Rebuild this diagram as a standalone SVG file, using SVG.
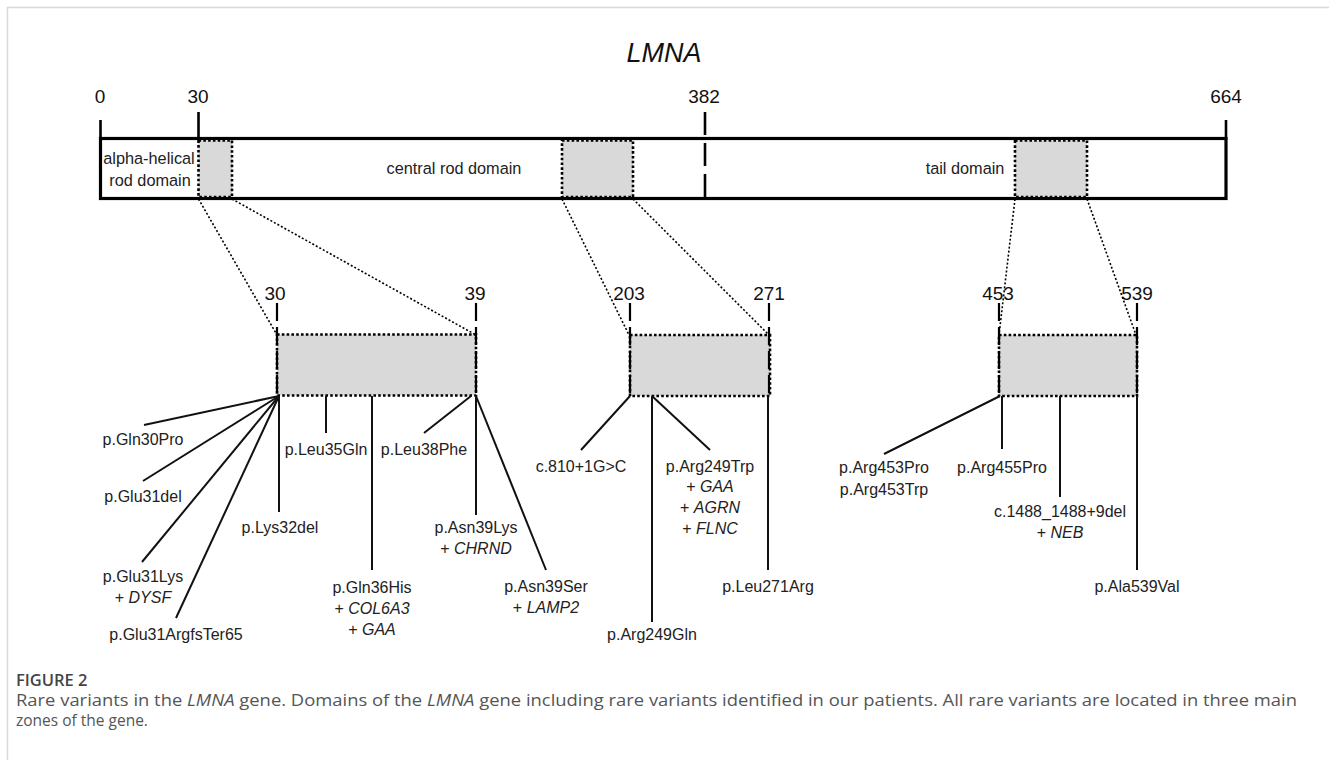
<svg xmlns="http://www.w3.org/2000/svg" width="1329" height="760" viewBox="0 0 1329 760">
<style>
.t{font-family:"Liberation Sans",Arial,sans-serif;font-size:16px;fill:#222;text-anchor:middle}
.d{font-family:"Liberation Sans",Arial,sans-serif;font-size:16.3px;fill:#222;text-anchor:middle}
.n{font-family:"Liberation Sans",Arial,sans-serif;font-size:19px;fill:#111;text-anchor:middle}
.bar{fill:none;stroke:#000;stroke-width:3.2}
.tick{stroke:#000;stroke-width:2.6}
.shade{fill:#d9d9d9;stroke:#000;stroke-width:2.6;stroke-dasharray:2.6 2.2}
.ztick{stroke:#000;stroke-width:2.2;stroke-dasharray:18 6}
.zoom{stroke:#000;stroke-width:1.6;stroke-dasharray:2 2;fill:none}
.v{stroke:#111;stroke-width:2;fill:none}
.i{font-style:italic}
.cap{font-family:"Open Sans","Liberation Sans",sans-serif;fill:#555;font-size:15.5px}
</style>
<rect x="0" y="0" width="1329" height="760" fill="#fff"/>
<path d="M7.5 760 V7.5 H1329" fill="none" stroke="#d9d9d9" stroke-width="1.5"/>

<g id="title"><text x="664" y="62" font-family="Liberation Sans,Arial,sans-serif" font-size="27" font-style="italic" text-anchor="middle" fill="#111">LMNA</text></g>

<g id="gene-bar">
  <line class="tick" x1="100.5" y1="120" x2="100.5" y2="140"/>
  <line class="tick" x1="1226" y1="120" x2="1226" y2="140"/>
  <line class="tick" x1="198.5" y1="112" x2="198.5" y2="137"/>
  <rect class="bar" x="100.5" y="138.5" width="1125.5" height="60"/>
  <rect class="shade" x="198.5" y="140.5" width="33.5" height="56.5"/>
  <rect class="shade" x="562" y="140.5" width="71" height="56.5"/>
  <rect class="shade" x="1015" y="140.5" width="72" height="56.5"/>
  <line x1="705" y1="112" x2="705" y2="198" stroke="#000" stroke-width="2.6" stroke-dasharray="23 8"/>
  <text class="n" x="100" y="103">0</text>
  <text class="n" x="198" y="103">30</text>
  <text class="n" x="704" y="103">382</text>
  <text class="n" x="1226" y="103">664</text>
  <text class="d" x="149" y="164">alpha-helical</text>
  <text class="d" x="150" y="186">rod domain</text>
  <text class="d" x="454" y="174">central rod domain</text>
  <text class="d" x="965" y="174">tail domain</text>
</g>

<g id="zoom-30-39">
  <rect class="shade" x="277" y="334.5" width="199" height="61"/>
  <line class="ztick" x1="277" y1="303" x2="277" y2="396"/>
  <line class="ztick" x1="476" y1="303" x2="476" y2="396"/>
  <text class="n" x="275" y="300">30</text>
  <text class="n" x="475" y="300">39</text>
</g>
<g id="zoom-203-271">
  <rect class="shade" x="630" y="335" width="140" height="61"/>
  <line class="ztick" x1="630" y1="303" x2="630" y2="396"/>
  <line class="ztick" x1="769" y1="303" x2="769" y2="396"/>
  <text class="n" x="629" y="300">203</text>
  <text class="n" x="769" y="300">271</text>
</g>
<g id="zoom-453-539">
  <rect class="shade" x="999" y="335" width="138" height="61"/>
  <line class="ztick" x1="999" y1="303" x2="999" y2="396"/>
  <line class="ztick" x1="1137" y1="303" x2="1137" y2="396"/>
  <text class="n" x="998" y="300">453</text>
  <text class="n" x="1137" y="300">539</text>
</g>

<g id="connectors">
  <line class="zoom" x1="198.5" y1="199" x2="277" y2="335"/>
  <line class="zoom" x1="232" y1="199" x2="476" y2="335"/>
  <line class="zoom" x1="562" y1="199" x2="629" y2="335"/>
  <line class="zoom" x1="633" y1="199" x2="769" y2="335"/>
  <line class="zoom" x1="1015" y1="199" x2="999" y2="335"/>
  <line class="zoom" x1="1087" y1="199" x2="1136" y2="335"/>

  <line class="v" x1="279" y1="396" x2="144" y2="425"/>
  <line class="v" x1="279" y1="396" x2="143" y2="481"/>
  <line class="v" x1="279" y1="396" x2="142" y2="562"/>
  <line class="v" x1="279" y1="396" x2="176" y2="618"/>
  <line class="v" x1="279" y1="396" x2="279" y2="512"/>
  <line class="v" x1="326" y1="396" x2="326" y2="433"/>
  <line class="v" x1="372" y1="396" x2="372" y2="570"/>
  <line class="v" x1="471" y1="396" x2="424" y2="433"/>
  <line class="v" x1="476" y1="396" x2="476" y2="515"/>
  <line class="v" x1="476" y1="396" x2="546" y2="570"/>

  <line class="v" x1="630" y1="396" x2="581" y2="450"/>
  <line class="v" x1="652" y1="396" x2="652" y2="622"/>
  <line class="v" x1="652" y1="396" x2="710" y2="450"/>
  <line class="v" x1="768" y1="396" x2="768" y2="570"/>

  <line class="v" x1="1000" y1="396" x2="884" y2="454"/>
  <line class="v" x1="1002" y1="396" x2="1002" y2="449"/>
  <line class="v" x1="1060" y1="396" x2="1060" y2="497"/>
  <line class="v" x1="1137" y1="396" x2="1137" y2="570"/>
</g>

<g id="v-gln30pro"><text class="t" x="143" y="445">p.Gln30Pro</text></g>
<g id="v-glu31del"><text class="t" x="143" y="502">p.Glu31del</text></g>
<g id="v-glu31lys"><text class="t" x="143" y="582">p.Glu31Lys</text><text class="t" x="143" y="603">+ <tspan class="i">DYSF</tspan></text></g>
<g id="v-glu31argfs"><text class="t" x="176" y="640">p.Glu31ArgfsTer65</text></g>
<g id="v-lys32del"><text class="t" x="280" y="533">p.Lys32del</text></g>
<g id="v-leu35gln"><text class="t" x="326" y="455">p.Leu35Gln</text></g>
<g id="v-gln36his"><text class="t" x="372" y="593">p.Gln36His</text><text class="t" x="372" y="614">+ <tspan class="i">COL6A3</tspan></text><text class="t" x="372" y="635">+ <tspan class="i">GAA</tspan></text></g>
<g id="v-leu38phe"><text class="t" x="424" y="455">p.Leu38Phe</text></g>
<g id="v-asn39lys"><text class="t" x="476" y="533">p.Asn39Lys</text><text class="t" x="476" y="554">+ <tspan class="i">CHRND</tspan></text></g>
<g id="v-asn39ser"><text class="t" x="546" y="592">p.Asn39Ser</text><text class="t" x="546" y="613">+ <tspan class="i">LAMP2</tspan></text></g>
<g id="v-c810"><text class="t" x="581" y="472">c.810+1G&gt;C</text></g>
<g id="v-arg249gln"><text class="t" x="652" y="640">p.Arg249Gln</text></g>
<g id="v-arg249trp"><text class="t" x="710" y="472">p.Arg249Trp</text><text class="t" x="710" y="492">+ <tspan class="i">GAA</tspan></text><text class="t" x="710" y="513">+ <tspan class="i">AGRN</tspan></text><text class="t" x="710" y="534">+ <tspan class="i">FLNC</tspan></text></g>
<g id="v-leu271arg"><text class="t" x="768" y="592">p.Leu271Arg</text></g>
<g id="v-arg453"><text class="t" x="884" y="473">p.Arg453Pro</text><text class="t" x="884" y="495">p.Arg453Trp</text></g>
<g id="v-arg455pro"><text class="t" x="1002" y="473">p.Arg455Pro</text></g>
<g id="v-c1488"><text class="t" x="1060" y="517">c.1488_1488+9del</text><text class="t" x="1060" y="538">+ <tspan class="i">NEB</tspan></text></g>
<g id="v-ala539val"><text class="t" x="1137" y="592">p.Ala539Val</text></g>

<g id="caption">
  <text x="16" y="686" font-family="Open Sans,Liberation Sans,sans-serif" font-size="16.5" font-weight="600" fill="#444">FIGURE 2</text>
  <text class="cap" x="16" y="706" textLength="1281" lengthAdjust="spacingAndGlyphs">Rare variants in the <tspan class="i">LMNA</tspan> gene. Domains of the <tspan class="i">LMNA</tspan> gene including rare variants identified in our patients. All rare variants are located in three main</text>
  <text class="cap" x="16" y="726">zones of the gene.</text>
</g>
</svg>
